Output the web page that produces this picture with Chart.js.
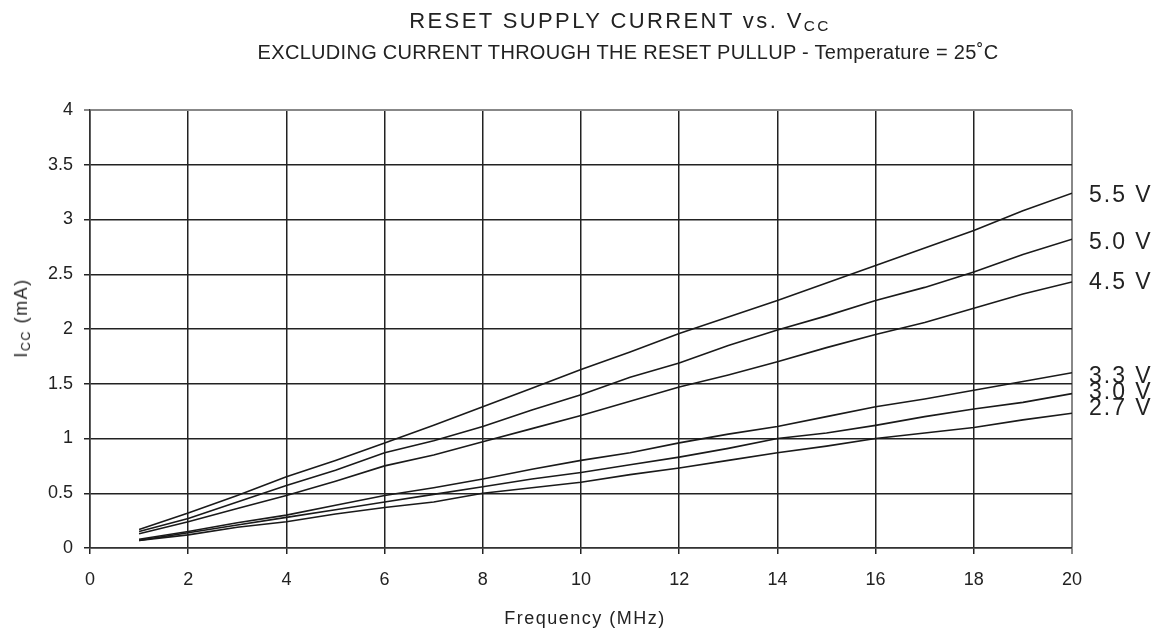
<!DOCTYPE html>
<html><head><meta charset="utf-8">
<script src="https://cdn.jsdelivr.net/npm/chart.js@4.4.1/dist/chart.umd.min.js"></script>
<style>
html,body{margin:0;padding:0;background:#fff;}
#wrap{position:relative;width:1169px;height:633px;font-family:"Liberation Sans",Arial,sans-serif;color:#222;}
canvas{position:absolute;left:0;top:0;}
.t{position:absolute;white-space:nowrap;transform:translateX(-50%);line-height:1;}
sub{font-size:70%;vertical-align:-0.2em;}
</style></head>
<body><div id="wrap">
<canvas id="c" width="1169" height="633"></canvas>
<div class="t" style="left:620px;top:10px;font-size:22px;letter-spacing:2.4px;">RESET SUPPLY CURRENT vs. V<sub>CC</sub></div>
<div class="t" style="left:628px;top:42px;font-size:20px;letter-spacing:0.3px;">EXCLUDING CURRENT THROUGH THE RESET PULLUP - Temperature = 25˚C</div>
<div class="t" style="left:585px;top:609px;font-size:18px;letter-spacing:1.5px;">Frequency (MHz)</div>
<div class="t" style="left:22px;top:318px;font-size:18px;letter-spacing:1.5px;transform:translate(-50%,-50%) rotate(-90deg);">I<sub>CC</sub> (mA)</div>
</div>
<script>
const freq = [1,2,3,4,5,6,7,8,9,10,11,12,13,14,15,16,17,18,19,20];
const v55 = [0.17,0.32,0.48,0.65,0.80,0.96,1.12,1.29,1.46,1.63,1.79,1.96,2.11,2.26,2.42,2.58,2.74,2.90,3.08,3.24];
const v50 = [0.15,0.27,0.42,0.57,0.71,0.87,0.98,1.11,1.26,1.40,1.56,1.69,1.85,1.99,2.12,2.26,2.38,2.52,2.68,2.82];
const v45 = [0.13,0.24,0.36,0.48,0.61,0.75,0.85,0.97,1.09,1.21,1.34,1.47,1.58,1.70,1.83,1.95,2.06,2.19,2.32,2.43];
const v33 = [0.08,0.15,0.23,0.30,0.39,0.48,0.55,0.63,0.72,0.80,0.87,0.96,1.04,1.11,1.20,1.29,1.36,1.44,1.52,1.60];
const v30 = [0.07,0.14,0.21,0.28,0.35,0.42,0.49,0.56,0.63,0.69,0.76,0.83,0.91,1.00,1.05,1.12,1.20,1.27,1.33,1.41];
const v27 = [0.07,0.12,0.19,0.24,0.31,0.37,0.42,0.50,0.55,0.60,0.67,0.73,0.80,0.87,0.93,1.00,1.05,1.10,1.17,1.23];
const seriesNames = ["5.5 V","5.0 V","4.5 V","3.3 V","3.0 V","2.7 V"];
const seriesVals = [v55,v50,v45,v33,v30,v27];
const labelOffsets = [2,3,1,4,-1,-5];

const datasets = seriesVals.map((vals,i)=>({
  label: seriesNames[i],
  data: vals.map((v,j)=>({x:freq[j],y:v})),
  borderColor:'#1a1a1a', borderWidth:1.6, pointRadius:0, tension:0, fill:false
}));

const endLabels = {
  id:'endLabels',
  afterDatasetsDraw(chart){
    const ctx=chart.ctx, xs=chart.scales.x, ys=chart.scales.y;
    ctx.save();
    ctx.font='23px "Liberation Sans", Arial, sans-serif';
    if ('letterSpacing' in ctx) ctx.letterSpacing='2px';
    ctx.fillStyle='#222'; ctx.textBaseline='middle'; ctx.textAlign='left';
    chart.data.datasets.forEach((ds,i)=>{
      const last=ds.data[ds.data.length-1];
      ctx.fillText(ds.label, xs.right+17, ys.getPixelForValue(last.y)+labelOffsets[i]);
    });
    ctx.restore();
  }
};

const fontFam='"Liberation Sans", Arial, sans-serif';
new Chart(document.getElementById('c'),{
  type:'line',
  data:{datasets},
  options:{
    responsive:false, animation:false,
    layout:{padding:{top:110,right:97,left:0,bottom:0}},
    plugins:{legend:{display:false},tooltip:{enabled:false}},
    scales:{
      x:{type:'linear',min:0,max:20,
        ticks:{stepSize:2,color:'#222',font:{size:18,family:fontFam},padding:15},
        grid:{color:(c)=>c.tick && c.tick.value===20?'#888':'#222',lineWidth:(c)=>c.tick && c.tick.value===20?2:1.5,tickLength:6},
        border:{color:'#333',width:1.5},
        afterFit(s){s.height=85;}
      },
      y:{min:0,max:4,
        ticks:{stepSize:0.5,color:'#222',font:{size:18,family:fontFam},padding:11,callback:(v)=>String(v)},
        grid:{color:(c)=>c.tick && c.tick.value===4?'#888':'#222',lineWidth:(c)=>c.tick && c.tick.value===4?2:1.5,tickLength:6},
        border:{color:'#333',width:1.5},
        afterFit(s){s.width=90;}
      }
    }
  },
  plugins:[endLabels]
});
</script></body></html>
